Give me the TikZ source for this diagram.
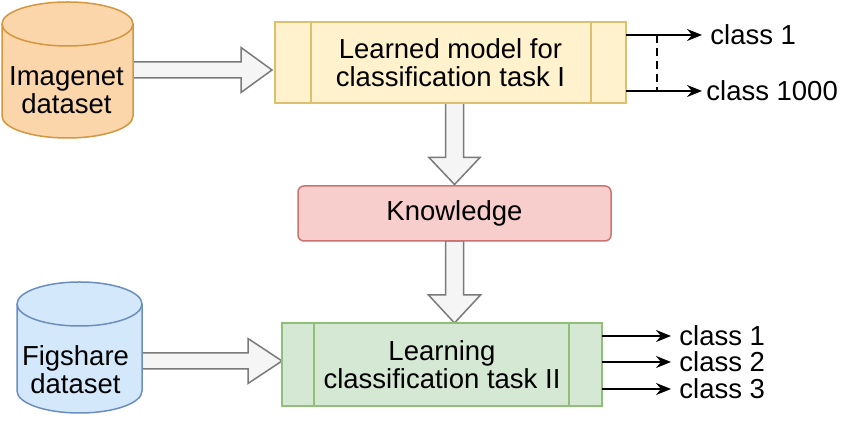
\documentclass[tikz,border=0pt]{standalone}
\usepackage{fontspec}
\setmainfont{Liberation Sans}
\usetikzlibrary{arrows.meta,calc,backgrounds}
\definecolor{orangeF}{HTML}{FBD6AB}
\definecolor{orangeD}{HTML}{D4963F}
\definecolor{blueF}{HTML}{D4E8FB}
\definecolor{blueD}{HTML}{6C8EBF}
\definecolor{yellowF}{HTML}{FFF2CC}
\definecolor{yellowD}{HTML}{DDBF6E}
\definecolor{pinkF}{HTML}{F8CECC}
\definecolor{pinkD}{HTML}{C97471}
\definecolor{greenF}{HTML}{D5E8D4}
\definecolor{greenD}{HTML}{8FBF78}
\definecolor{arrF}{HTML}{F5F5F5}
\definecolor{arrD}{HTML}{7A7A7A}
\newcommand\dbcyl[4]{% node name, x radius, fill, draw
  \path[fill=#3,draw=#4,line width=0.75pt]
    ([yshift=-11pt]#1.north west) -- ([yshift=11pt]#1.south west)
    arc[start angle=180,end angle=360,x radius=#2,y radius=11pt]
    -- ([yshift=-11pt]#1.north east)
    arc[start angle=0,end angle=180,x radius=#2,y radius=11pt] -- cycle;
  \draw[draw=#4,line width=0.75pt] ([yshift=-11pt]#1.north west)
    arc[start angle=180,end angle=360,x radius=#2,y radius=11pt];
}
\begin{document}
\begin{tikzpicture}[x=0.5pt,y=-0.5pt,
  every node/.style={font=\fontsize{13.75pt}{14pt}\selectfont},
  dbshape/.style={rectangle,inner sep=0pt,outer sep=0pt},
  dbtext/.style={align=center,inner sep=0pt},
  procbox/.style={rectangle,inner sep=0pt,outer sep=0pt,line width=0.75pt,align=center},
  blockarrow/.style={fill=arrF,draw=arrD,line width=0.75pt,line join=miter},
  outarrow/.style={line width=1pt,-{Stealth[length=7.5pt,width=6pt,inset=2.5pt]}},
  clabel/.style={anchor=west,inner sep=0pt}]
\useasboundingbox (0,0) rectangle (843,421);

% cylinders
\node[dbshape,minimum width=65.5pt,minimum height=68pt] (img) at (67.5,70) {};
\dbcyl{img}{32.75pt}{orangeF}{orangeD}
\node[dbtext] (imgtxt) at (66.5,90.5) {Imagenet\\dataset};

\node[dbshape,minimum width=62.5pt,minimum height=65.5pt] (fig) at (79.5,347.5) {};
\dbcyl{fig}{31.25pt}{blueF}{blueD}
\node[dbtext] (figtxt) at (75.5,369.5) {Figshare\\dataset};

% process boxes
\node[procbox,fill=yellowF,draw=yellowD,minimum width=175.5pt,minimum height=40.5pt]
  (learned) at (450.5,62.5) {Learned model for\\classification task I};
\draw[yellowD,line width=0.75pt] ([xshift=18pt]learned.north west) -- ([xshift=18pt]learned.south west);
\draw[yellowD,line width=0.75pt] ([xshift=-17.5pt]learned.north east) -- ([xshift=-17.5pt]learned.south east);

\node[procbox,fill=pinkF,draw=pinkD,rounded corners=3pt,minimum width=156.5pt,minimum height=27.5pt]
  (know) at (454.5,213.5) {Knowledge};

\node[procbox,fill=greenF,draw=greenD,minimum width=160pt,minimum height=41.5pt]
  (green) at (442,364.5) {Learning\\classification task II};
\draw[greenD,line width=0.75pt] ([xshift=16pt]green.north west) -- ([xshift=16pt]green.south west);
\draw[greenD,line width=0.75pt] ([xshift=-16.5pt]green.north east) -- ([xshift=-16.5pt]green.south east);

% block arrows
\begin{scope}[on background layer]
\fill[white] (0,0) rectangle (843,421);
\draw[blockarrow] let \p1=(img.east), \p2=([xshift=-1.5pt]learned.west) in
  (\x1,\y1+4pt) -- (\x2-15.5pt,\y1+4pt) -- (\x2-15.5pt,\y1+11.25pt) -- (\x2,\y1)
  -- (\x2-15.5pt,\y1-11.25pt) -- (\x2-15.5pt,\y1-4pt) -- (\x1,\y1-4pt) -- cycle;
\draw[blockarrow] let \p1=([yshift=-6.75pt]fig.east), \p2=(green.west) in
  (\x1,\y1+4pt) -- (\x2-17pt,\y1+4pt) -- (\x2-17pt,\y1+11.25pt) -- (\x2,\y1)
  -- (\x2-17pt,\y1-11.25pt) -- (\x2-17pt,\y1-4pt) -- (\x1,\y1-4pt) -- cycle;
\draw[blockarrow] let \p1=(know.north |- learned.south), \p2=([yshift=0.75pt]know.north) in
  (\x1-4.5pt,\y1) -- (\x1-4.5pt,\y2+13.5pt) -- (\x1-12.75pt,\y2+13.5pt) -- (\x1,\y2)
  -- (\x1+12.75pt,\y2+13.5pt) -- (\x1+4.5pt,\y2+13.5pt) -- (\x1+4.5pt,\y1) -- cycle;
\draw[blockarrow] let \p1=(know.south), \p2=(know.south |- green.north) in
  (\x1-4.5pt,\y1) -- (\x1-4.5pt,\y2+14pt) -- (\x1-13pt,\y2+14pt) -- (\x1,\y2)
  -- (\x1+13pt,\y2+14pt) -- (\x1+4.5pt,\y2+14pt) -- (\x1+4.5pt,\y1) -- cycle;
\end{scope}

% outputs of task I
\node[clabel] (c1) at (710,35) {class 1};
\node[clabel] (c1000) at (706,91) {class 1000};
\draw[outarrow] (learned.east |- c1.west) -- ([xshift=-4pt]c1.west);
\draw[outarrow] (learned.east |- c1000.west) -- ([xshift=-2pt]c1000.west);
\coordinate (dtop) at (657,35);
\coordinate (dbot) at (657,91);
\draw[line width=1pt,dash pattern=on 4pt off 2.5pt] (dtop) -- (dbot);

% outputs of task II
\node[clabel] (g1) at (679,336) {class 1};
\node[clabel] (g2) at (679,362) {class 2};
\node[clabel] (g3) at (679,389) {class 3};
\draw[outarrow] (green.east |- g1.west) -- ([xshift=-4pt]g1.west);
\draw[outarrow] (green.east |- g2.west) -- ([xshift=-4pt]g2.west);
\draw[outarrow] (green.east |- g3.west) -- ([xshift=-4pt]g3.west);
\end{tikzpicture}
\end{document}
